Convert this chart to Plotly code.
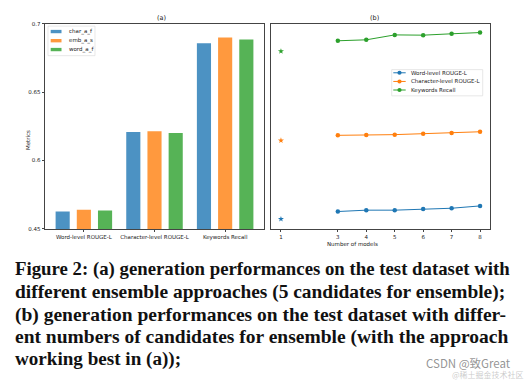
import plotly.graph_objects as go

# ---- data ----
categories = ["Word-level ROUGE-L", "Character-level ROUGE-L", "Keywords Recall"]
bar_series = ["char_a_f", "emb_a_s", "word_a_f"]
char_a_f = [0.5628, 0.6208, 0.6856]
emb_a_s = [0.5640, 0.6213, 0.6899]
word_a_f = [0.5635, 0.6201, 0.6885]

ytick_vals = [0.55, 0.60, 0.65, 0.70]
ytick_text = ["0.45", "0.6", "0.65", "0.7"]

line_names = ["Word-level ROUGE-L", "Character-level ROUGE-L", "Keywords Recall"]
n_models = [3, 4, 5, 6, 7, 8]
single_model = [1]
word_rouge = [0.5627, 0.5637, 0.5637, 0.5646, 0.5651, 0.5668]
char_rouge = [0.6184, 0.6186, 0.6189, 0.6196, 0.6201, 0.6210]
kw_recall = [0.6875, 0.6882, 0.6918, 0.6916, 0.6926, 0.6935]
word_rouge_1 = [0.5572]
char_rouge_1 = [0.6146]
kw_recall_1 = [0.6798]
xticks_b = [1, 3, 4, 5, 6, 7, 8]

caption_lines = [
    "Figure 2: (a) generation performances on the test dataset with",
    "different ensemble approaches (5 candidates for ensemble);",
    "(b) generation performances on the test dataset with differ-",
    "ent numbers of candidates for ensemble (with the approach",
    "working best in (a));",
]

# ---- styles ----
bar_colors = ["rgba(31,119,180,0.8)", "rgba(255,127,14,0.8)", "rgba(44,160,44,0.8)"]
line_colors = ["#1f77b4", "#ff7f0e", "#2ca02c"]
FONT = "DejaVu Sans"
W, H = 531, 383


def px(x):
    return x / W


def py(y):
    return 1 - y / H


fig = go.Figure()

for name, vals, col in zip(bar_series, [char_a_f, emb_a_s, word_a_f], bar_colors):
    fig.add_trace(go.Bar(x=list(range(len(categories))), y=vals, name=name,
                         marker=dict(color=col, line=dict(width=0)),
                         xaxis="x", yaxis="y", showlegend=False))

for name, vals, v1, col in zip(line_names, [word_rouge, char_rouge, kw_recall],
                               [word_rouge_1, char_rouge_1, kw_recall_1], line_colors):
    fig.add_trace(go.Scatter(x=n_models, y=vals, name=name, mode="lines+markers",
                             line=dict(color=col, width=1),
                             marker=dict(symbol="circle", size=4.5, color=col),
                             xaxis="x2", yaxis="y2", showlegend=False))
    fig.add_trace(go.Scatter(x=single_model, y=v1, mode="markers", showlegend=False,
                             marker=dict(symbol="star", size=4.5, color=col,
                                         line=dict(width=0)),
                             xaxis="x2", yaxis="y2"))

axis_common = dict(showline=True, linecolor="#444", linewidth=0.8, mirror=True,
                   showgrid=False, zeroline=False, ticklen=2.5,
                   tickwidth=0.6, tickcolor="#444",
                   tickfont=dict(family=FONT, size=5.5, color="#222"))

yr = [0.55, 0.70]
dom_y = [py(229.5), py(21)]

fig.update_layout(
    width=W, height=H, margin=dict(l=0, r=0, t=0, b=0),
    paper_bgcolor="white", plot_bgcolor="white",
    barmode="group", bargap=0.1, bargroupgap=1 / 3,
    xaxis=dict(domain=[px(45), px(264)], range=[-0.55, 2.55], ticks="outside",
               tickvals=list(range(len(categories))), ticktext=categories, **axis_common),
    yaxis=dict(domain=dom_y, range=yr, tickvals=ytick_vals, ticktext=ytick_text,
               ticks="outside", **axis_common),
    xaxis2=dict(domain=[px(271), px(490)], range=[0.65, 8.35], tickvals=xticks_b,
                anchor="y2", ticks="outside", **axis_common),
    yaxis2=dict(domain=dom_y, range=yr, anchor="x2", showticklabels=False, ticks="",
                **axis_common),
    showlegend=False,
)

shapes = []
ann = []
small = dict(family=FONT, size=5.5, color="#222")

# legend (a): bar swatches
shapes.append(dict(type="rect", xref="paper", yref="paper", x0=px(48), x1=px(95),
                   y0=py(53.5), y1=py(23.5), line=dict(color="#d8d8d8", width=0.6),
                   fillcolor="rgba(255,255,255,0.85)", layer="above"))
leg_a_y = [29, 38.3, 47.3]
for name, col, yy in zip(bar_series, bar_colors, leg_a_y):
    shapes.append(dict(type="rect", xref="paper", yref="paper", x0=px(50.7), x1=px(61.5),
                       y0=py(yy + 1.7), y1=py(yy - 1.7), line=dict(width=0),
                       fillcolor=col, layer="above"))
    ann.append(dict(text=name, x=px(66.5), y=py(yy), xref="paper", yref="paper",
                    xanchor="left", yanchor="middle", showarrow=False, font=small))

# legend (b): line + marker
shapes.append(dict(type="rect", xref="paper", yref="paper", x0=px(391.7), x1=px(482.7),
                   y0=py(94.3), y1=py(67.7), line=dict(color="#d8d8d8", width=0.6),
                   fillcolor="rgba(255,255,255,0.85)", layer="above"))
leg_b_y = [70.9, 79.7, 88.4]
for name, col, yy in zip(line_names, line_colors, leg_b_y):
    shapes.append(dict(type="line", xref="paper", yref="paper", x0=px(393.3), x1=px(405.7),
                       y0=py(yy), y1=py(yy), line=dict(color=col, width=1), layer="above"))
    shapes.append(dict(type="circle", xref="paper", yref="paper", x0=px(397.4), x1=px(401.6),
                       y0=py(yy + 2.1), y1=py(yy - 2.1), line=dict(width=0),
                       fillcolor=col, layer="above"))
    ann.append(dict(text=name, x=px(409.3), y=py(yy), xref="paper", yref="paper",
                    xanchor="left", yanchor="middle", showarrow=False, font=small))

ann.append(dict(text="(a)", x=px((45 + 264) / 2), y=py(15.5), xref="paper", yref="paper",
                yanchor="middle", showarrow=False, font=dict(family=FONT, size=6.5, color="#222")))
ann.append(dict(text="(b)", x=px((271 + 490) / 2), y=py(15.5), xref="paper", yref="paper",
                yanchor="middle", showarrow=False, font=dict(family=FONT, size=6.5, color="#222")))
ann.append(dict(text="Metrics", x=px(23), y=py(127), xref="paper", yref="paper",
                textangle=-90, showarrow=False, font=small))
ann.append(dict(text="Number of models", x=px(380), y=py(244.5), xref="paper", yref="paper",
                showarrow=False, font=small))

line_y = [270, 293.3, 316.7, 339.3, 361.7]
line_sizes = [18.8, 19.4, 19.5, 19.5, 19.1]
for txt, yy, fs in zip(caption_lines, line_y, line_sizes):
    ann.append(dict(text="<b>" + txt + "</b>", x=px(13), y=py(yy), xref="paper", yref="paper",
                    xanchor="left", yanchor="middle", showarrow=False,
                    font=dict(family="Liberation Serif", size=fs, color="#111")))

ann.append(dict(text="@稀土掘金技术社区", x=px(526), y=py(377.5), xref="paper", yref="paper",
                xanchor="right", yanchor="middle", showarrow=False,
                font=dict(family="Noto Sans CJK SC", size=8, color="rgba(150,150,150,0.5)")))
ann.append(dict(text="CSDN @致Great", x=px(513), y=py(365.5), xref="paper", yref="paper",
                xanchor="right", yanchor="middle", showarrow=False,
                font=dict(family="Noto Sans CJK SC", size=11.5, color="rgba(120,120,120,0.8)")))

fig.update_layout(annotations=ann, shapes=shapes)
fig.write_html("out.html", config={"displayModeBar": False},
               post_script="document.body.style.margin='0';")
